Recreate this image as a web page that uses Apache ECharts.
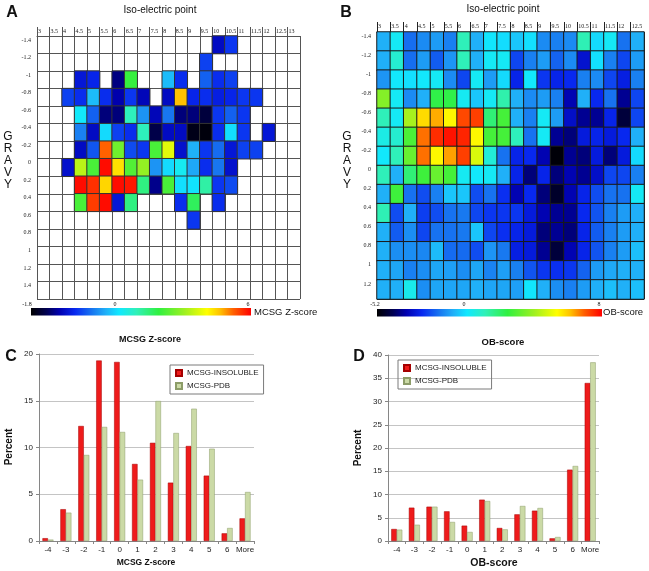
<!DOCTYPE html>
<html><head><meta charset="utf-8">
<script src="https://cdn.jsdelivr.net/npm/echarts@6/dist/echarts.min.js"></script>
<style>html,body{margin:0;padding:0;background:#fff}#c{width:649px;height:571px}</style>
</head><body><div id="c"></div>
<script>
const _ = null;
// ---- Panel A / B axis categories ----
const isoA = [3,3.5,4,4.5,5,5.5,6,6.5,7,7.5,8,8.5,9,9.5,10,10.5,11,11.5,12,12.5,13];
const isoB = [3,3.5,4,4.5,5,5.5,6,6.5,7,7.5,8,8.5,9,9.5,10,10.5,11,11.5,12,12.5];
const gravyA = [-1.4,-1.2,-1,-0.8,-0.6,-0.4,-0.2,0,0.2,0.4,0.6,0.8,1,1.2,1.4];
const gravyB = [-1.4,-1.2,-1,-0.8,-0.6,-0.4,-0.2,0,0.2,0.4,0.6,0.8,1,1.2];
// ---- Panel A: MCSG Z-score (rows = GRAVY, cols = pI) ----
const zA = [
 [_,_,_,_,_,_,_,_,_,_,_,_,_,_,-1.1,-0.8,_,_,_,_,_],
 [_,_,_,_,_,_,_,_,_,_,_,_,_,-0.75,_,_,_,_,_,_,_],
 [_,_,_,-1.0,-0.9,_,-1.33,2.0,_,_,-0.15,-0.85,_,-0.6,-0.85,-0.75,_,_,_,_,_],
 [_,_,-0.75,-0.85,-0.15,-0.85,-1.2,-0.8,-1.15,_,-1.1,4.7,-0.9,-0.85,-0.95,-0.9,-0.8,-0.8,_,_,_],
 [_,_,_,0.2,-0.6,-1.35,-1.35,0.9,-0.35,-1.15,-0.5,-1.35,-1.35,-1.55,-0.8,-0.6,-0.8,_,_,_,_],
 [_,_,_,-0.45,-1.1,0.0,-0.75,-0.85,0.9,-1.5,-1.1,-1.1,-1.7,-1.75,-0.85,0.05,-0.8,_,-1.0,_,_],
 [_,_,_,-1.1,-0.65,5.3,2.6,-0.7,-0.8,2.2,3.8,-1.05,-0.2,-0.8,-0.55,-1.0,-0.75,-0.75,_,_,_],
 [_,_,-1.05,3.4,2.2,6.0,4.4,2.3,3.0,-0.35,0.0,0.3,-0.25,-0.85,-0.5,-1.05,_,_,_,_,_],
 [_,_,_,6.0,5.7,4.5,6.0,5.9,1.4,-1.3,2.2,0.05,0.1,1.1,-0.8,-0.7,_,_,_,_,_],
 [_,_,_,2.2,5.6,6.0,-1.0,1.4,_,_,_,-0.85,1.7,_,-0.85,_,_,_,_,_,_],
 [_,_,_,_,_,_,_,_,_,_,_,_,-0.8,_,_,_,_,_,_,_,_]
];
// ---- Panel B: OB-score ----
const obB = [
 [-0.6,0.35,-1.55,-1.15,-0.9,-1.3,1.25,-0.6,0.2,0.05,-0.3,0.1,-1.15,-1.3,-1.15,1.3,0.0,0.35,-1.5,-0.6],
 [-0.6,0.9,-1.55,-0.9,-1.8,-1.0,1.25,-0.6,0.35,0.35,-2.1,-1.3,-0.9,-1.7,-1.15,-3.0,0.1,-1.3,-2.1,-0.9],
 [-1.0,0.25,0.1,0.25,0.35,-1.15,-2.1,0.35,-0.9,0.0,-2.6,0.25,-2.3,-2.6,-2.5,-1.3,-1.15,-2.1,-2.7,-1.3],
 [3.8,0.35,-1.15,-0.6,2.5,2.5,0.4,-0.3,0.35,1.4,-0.6,-1.15,-0.9,-1.3,-3.4,-0.6,-2.5,-1.5,-3.7,-2.1],
 [1.25,0.35,4.3,6.0,6.5,5.6,7.4,7.5,2.0,2.9,-0.6,-1.3,0.35,-0.9,-3.1,-3.7,-3.7,-2.6,-4.5,-2.1],
 [0.6,0.9,3.0,7.0,7.7,8.0,7.8,5.6,2.9,2.9,1.2,-1.5,0.35,-3.7,-3.9,-2.8,-2.6,-2.8,-2.5,-0.6],
 [0.25,1.25,3.4,7.0,5.6,6.6,7.5,5.0,0.8,-1.5,-2.6,-2.5,-3.4,-5.1,-3.7,-3.9,-2.8,-3.9,-2.8,0.0],
 [1.25,-0.6,2.0,2.8,3.4,2.9,0.4,0.25,0.35,-0.6,-2.6,-3.9,-2.6,-3.9,-3.4,-3.7,-3.1,-2.1,-2.1,-1.3],
 [-0.6,2.8,-1.5,-2.0,-1.3,-0.3,-0.3,-2.0,-1.5,-2.4,-3.4,-2.5,-3.9,-4.7,-3.4,-2.6,-2.0,-1.5,-1.5,0.35],
 [1.3,-2.0,-0.6,-2.2,-2.0,-1.5,-1.4,-2.1,-2.3,-2.3,-2.3,-2.8,-3.4,-3.7,-3.7,-2.5,-1.9,-1.3,-0.9,-0.6],
 [-0.6,-1.8,-1.1,-2.1,-1.5,-1.5,-1.4,-0.3,-2.1,-2.4,-2.6,-2.8,-3.9,-3.7,-3.9,-2.6,-1.8,-1.3,-0.9,-0.6],
 [-0.6,-1.1,-1.1,-1.2,-0.45,-1.6,-1.6,-2.0,-1.0,-1.4,-2.7,-2.8,-3.7,-4.5,-3.4,-2.6,-1.9,-1.3,-0.9,-0.4],
 [-0.6,-0.75,-1.3,-1.1,-0.75,-0.85,-1.1,-0.75,-1.25,-0.85,-1.3,-1.9,-2.3,-2.4,-2.3,-1.7,-0.9,-0.7,-0.6,-0.6],
 [-0.6,-0.6,0.5,-1.1,-0.75,-0.75,-0.75,-0.6,-0.75,-0.75,-0.85,0.2,-0.6,-1.1,-1.3,-0.9,-0.6,-0.4,-0.6,-0.4]
];
// ---- Panel C / D bar charts ----
const binsC = ['-4','-3','-2','-1','0','1','2','3','4','5','6','More'];
const insolC = [0.3,3.4,12.3,19.3,19.15,8.24,10.5,6.24,10.16,6.99,0.82,2.42];
const pdbC   = [0.15,3.03,9.2,12.2,11.66,6.56,14.97,11.55,14.15,9.87,1.39,5.24];
const binsD = ['-4','-3','-2','-1','0','1','2','3','4','5','6','More'];
const insolD = [2.58,7.17,7.38,6.38,3.3,8.89,2.8,5.73,6.52,0.57,15.34,33.98];
const pdbD   = [2.44,3.5,7.38,4.09,1.94,8.6,2.5,7.53,7.1,0.86,16.13,38.42];
const rangeA = [-1.8, 6.1];
const rangeB = [-5.2, 8.2];

// ---------- styling helpers ----------
const STOPS = [[0,'#000000'],[0.07,'#000050'],[0.13,'#0000b0'],[0.2,'#0828f0'],[0.28,'#1878f0'],[0.34,'#20b0f8'],[0.4,'#10e8ff'],[0.48,'#30f0b8'],[0.58,'#30f040'],[0.7,'#a0f020'],[0.8,'#ffff00'],[0.86,'#ffc000'],[0.92,'#ff6000'],[1,'#ff0000']];
function h2r(h){return [parseInt(h.slice(1,3),16),parseInt(h.slice(3,5),16),parseInt(h.slice(5,7),16)];}
function sample(f){
  f=Math.max(0,Math.min(1,f));
  for(let i=1;i<STOPS.length;i++){
    if(f<=STOPS[i][0]){
      const a=STOPS[i-1],b=STOPS[i];const t=(f-a[0])/(b[0]-a[0]);
      const ca=h2r(a[1]),cb=h2r(b[1]);
      return 'rgb('+ca.map((v,k)=>Math.round(v+(cb[k]-v)*t)).join(',')+')';
    }
  }
  return STOPS[STOPS.length-1][1];
}
function ramp(mn,mx){
  const out=[];const N=80;
  for(let k=0;k<N;k++){
    const v=mn+k*(mx-mn)/(N-1);
    const f=v<0?0.385*(v-mn)/(-mn):0.385+0.615*v/mx;
    out.push(sample(f));
  }
  return out;
}
function cells(m){const d=[];m.forEach((row,r)=>row.forEach((v,c)=>{if(v!==null)d.push([c,r,v]);}));return d;}
const fmt1 = v => String(Math.round(v*10)/10);
const FONT = 'Liberation Sans, Arial, sans-serif';
const tinyLbl = {fontSize:6,color:'#222',fontFamily:'Liberation Serif, DejaVu Serif, serif'};

function heatAxes(gi, iso, gravy, tickLen, ym, xm, lc){
  return {
    xc:{type:'category',gridIndex:gi,data:iso.map(String),show:false},
    xv:{type:'value',gridIndex:gi,position:'top',min:iso[0],max:iso[iso.length-1]+0.5,interval:0.5,
        axisLine:{show:true,lineStyle:{color:lc,width:1}},
        axisTick:{show:true,length:tickLen,inside:false,lineStyle:{color:lc,width:1}},
        axisLabel:Object.assign({show:true,align:'left',margin:xm,padding:[0,0,0,1],showMaxLabel:false,formatter:fmt1},tinyLbl),
        splitLine:{show:true,lineStyle:{color:lc,width:1}}},
    yc:{type:'category',gridIndex:gi,data:gravy.map(String),inverse:true,show:false},
    yv:{type:'value',gridIndex:gi,position:'left',inverse:true,min:gravy[0],max:Math.round((gravy[gravy.length-1]+0.2)*10)/10,interval:0.2,
        axisLine:{show:true,lineStyle:{color:lc,width:1}},axisTick:{show:false},
        axisLabel:Object.assign({show:true,verticalAlign:'top',margin:ym,padding:[1,0,0,0],showMaxLabel:false,formatter:fmt1},tinyLbl),
        splitLine:{show:true,lineStyle:{color:lc,width:1}}}
  };
}
const hA = heatAxes(0, isoA, gravyA, 9, 6, 2, '#555');
const hB = heatAxes(1, isoB, gravyB, 10, 6, 3, '#222');

function barX(gi,data){return {type:'category',gridIndex:gi,data:data,
  axisLine:{lineStyle:{color:'#868686'}},axisTick:{show:true,length:3,lineStyle:{color:'#868686'}},
  axisLabel:{fontSize:8,color:'#222',margin:5,interval:0,fontFamily:FONT}};}
function barY(gi,max){return {type:'value',gridIndex:gi,position:'left',min:0,max:max,interval:5,
  axisLine:{show:true,lineStyle:{color:'#868686'}},axisTick:{show:true,length:3,lineStyle:{color:'#868686'}},
  splitLine:{show:true,lineStyle:{color:'#c4c4c4'}},
  axisLabel:{fontSize:8,color:'#222',margin:6,fontFamily:FONT}};}

const RED = {color:'#ee1b1b',borderColor:'#a50000',borderWidth:0.5};
const GRN = {color:'#cbdaa6',borderColor:'#8c9c68',borderWidth:0.5};

function txt(x,y,t,opt){
  opt=opt||{};
  return {type:'text',x:x,y:y,rotation:opt.rot||0,silent:true,style:{text:t,x:0,y:0,
    font:(opt.w||'normal')+' '+(opt.s||10)+'px '+(opt.f||FONT),fill:opt.c||'#111',
    textAlign:opt.a||'center',align:opt.a||'center',textVerticalAlign:'middle',verticalAlign:'middle'}};
}
function cbar(x,y,w,h){
  return {type:'rect',shape:{x:x,y:y,width:w,height:h},silent:true,
    style:{fill:new echarts.graphic.LinearGradient(0,0,1,0,STOPS.map(s=>({offset:s[0],color:s[1]})))}};
}
const legendBase = {orient:'vertical',data:['MCSG-INSOLUBLE','MCSG-PDB'],icon:'rect',itemWidth:6,itemHeight:6,itemGap:5,
  borderColor:'#7a7a7a',borderWidth:1,padding:[4,5,4,5],selectedMode:false,textStyle:{fontSize:8,color:'#222',fontFamily:FONT}};
const SERIF = 'Liberation Serif, DejaVu Serif, serif';

const chart = echarts.init(document.getElementById('c'),null,{renderer:'canvas'});
chart.setOption({
  animation:false,
  backgroundColor:'#fff',
  grid:[
    {left:37,top:36,width:263,height:263},
    {left:377,top:32,width:267,height:267},
    {left:39,top:354,width:215,height:187},
    {left:388,top:355,width:211,height:186}
  ],
  xAxis:[hA.xc,hA.xv,hB.xc,hB.xv,barX(2,binsC),barX(3,binsD)],
  yAxis:[hA.yc,hA.yv,hB.yc,hB.yv,barY(2,20),barY(3,40)],
  visualMap:[
    {type:'continuous',show:false,seriesIndex:0,dimension:2,min:rangeA[0],max:rangeA[1],inRange:{color:ramp(rangeA[0],rangeA[1])}},
    {type:'continuous',show:false,seriesIndex:1,dimension:2,min:rangeB[0],max:rangeB[1],inRange:{color:ramp(rangeB[0],rangeB[1])}}
  ],
  legend:[
    Object.assign({left:170,top:365},legendBase),
    Object.assign({left:398,top:360},legendBase)
  ],
  series:[
    {type:'heatmap',name:'zA',xAxisIndex:0,yAxisIndex:0,data:cells(zA),itemStyle:{borderColor:'#333',borderWidth:1},emphasis:{disabled:true}},
    {type:'heatmap',name:'obB',xAxisIndex:2,yAxisIndex:2,data:cells(obB),itemStyle:{borderColor:'#1a1a1a',borderWidth:1},emphasis:{disabled:true}},
    {type:'bar',name:'MCSG-INSOLUBLE',xAxisIndex:4,yAxisIndex:4,data:insolC,barWidth:5.5,barGap:'0%',itemStyle:RED},
    {type:'bar',name:'MCSG-PDB',xAxisIndex:4,yAxisIndex:4,data:pdbC,barWidth:5.5,barGap:'0%',itemStyle:GRN},
    {type:'bar',name:'MCSG-INSOLUBLE',xAxisIndex:5,yAxisIndex:5,data:insolD,barWidth:5.5,barGap:'0%',itemStyle:RED},
    {type:'bar',name:'MCSG-PDB',xAxisIndex:5,yAxisIndex:5,data:pdbD,barWidth:5.5,barGap:'0%',itemStyle:GRN}
  ],
  graphic:[
    txt(12,13,'A',{w:'bold',s:16}),
    txt(346,13,'B',{w:'bold',s:16}),
    txt(11,357,'C',{w:'bold',s:16}),
    txt(359,357,'D',{w:'bold',s:16}),
    txt(160,10,'Iso-electric point',{s:10}),
    txt(503,9,'Iso-electric point',{s:10}),
    {type:'text',x:8,y:131,silent:true,style:{text:'G\nR\nA\nV\nY',x:0,y:0,font:'normal 12px Liberation Sans, sans-serif',lineHeight:12,fill:'#111',textAlign:'center',align:'center'}},
    {type:'text',x:347,y:131,silent:true,style:{text:'G\nR\nA\nV\nY',x:0,y:0,font:'normal 12px Liberation Sans, sans-serif',lineHeight:12,fill:'#111',textAlign:'center',align:'center'}},
    cbar(31,308,220,7.5),
    cbar(377,309,225,7.5),
    txt(27,304,'-1.8',{s:6,f:SERIF}),
    txt(115,304,'0',{s:6,f:SERIF}),
    txt(248,304,'6',{s:6,f:SERIF}),
    txt(375,304,'-5.2',{s:6,f:SERIF}),
    txt(464,304,'0',{s:6,f:SERIF}),
    txt(599,304,'8',{s:6,f:SERIF}),
    txt(254,312,'MCSG Z-score',{s:9.5,a:'left'}),
    txt(603,312,'OB-score',{s:9.5,a:'left'}),
    txt(150,340,'MCSG Z-score',{s:9,w:'bold'}),
    txt(503,342,'OB-score',{s:9.5,w:'bold'}),
    txt(146,563,'MCSG Z-score',{s:8.5,w:'bold'}),
    txt(494,563,'OB-score',{s:10.5,w:'bold'}),
    txt(9,447,'Percent',{s:10,w:'bold',rot:Math.PI/2}),
    txt(358,448,'Percent',{s:10,w:'bold',rot:Math.PI/2})
  ]
});
</script></body></html>
